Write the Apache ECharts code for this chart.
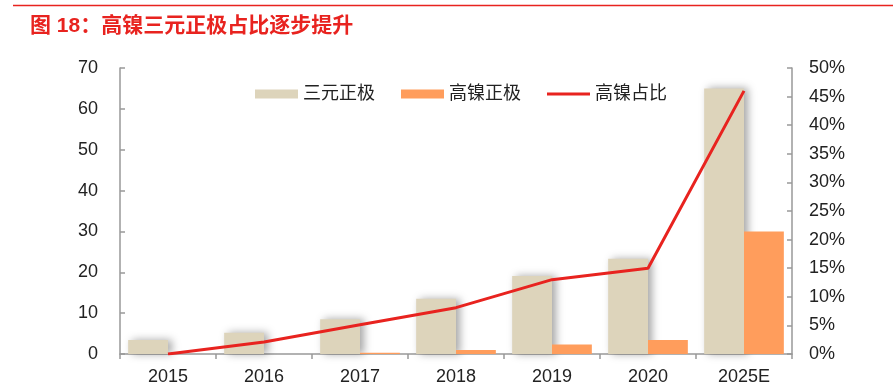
<!DOCTYPE html>
<html><head><meta charset="utf-8">
<script src="https://cdn.jsdelivr.net/npm/echarts@6/dist/echarts.min.js"></script>
<style>html,body{margin:0;padding:0;background:#fff}#c{width:893px;height:389px}</style>
</head><body><div id="c"></div>
<script>
const categories = ['2015','2016','2017','2018','2019','2020','2025E'];
const ternary = [3.4, 5.2, 8.5, 13.5, 19.1, 23.3, 65];
const highNi = [0, 0, 0.3, 1.0, 2.3, 3.4, 30];
const highNiShare = [0, 2.1, 5.1, 8.1, 13, 15, 46];
const leftTicks = {min: 0, max: 70, interval: 10};
const rightTicks = {min: 0, max: 50, interval: 5};

const FONT = 'Liberation Sans, Arial, Noto Sans CJK SC, sans-serif';
const axisGray = '#999999';
const chart = echarts.init(document.getElementById('c'), null, {renderer: 'canvas'});
chart.setOption({
  animation: false,
  textStyle: {fontFamily: FONT},
  title: {
    text: '图 18：高镍三元正极占比逐步提升',
    left: 25, top: 11,
    textStyle: {color: '#e8231f', fontSize: 21, fontWeight: 'bold', fontFamily: FONT}
  },
  graphic: [{
    type: 'line', shape: {x1: 13, y1: 5.5, x2: 893, y2: 5.5},
    style: {stroke: '#e8231f', lineWidth: 1.5}
  }],
  legend: {
    left: 250, top: 80,
    itemWidth: 43, itemHeight: 9, itemGap: 26,
    symbolKeepAspect: true,
    textStyle: {fontSize: 18, color: '#222', fontFamily: FONT},
    data: [
      {name: '三元正极', icon: 'rect'},
      {name: '高镍正极', icon: 'rect'},
      {name: '高镍占比', icon: 'path://M0,0H43V3H0Z', itemStyle: {color: '#e8231f'}}
    ]
  },
  grid: {left: 120, right: 101, top: 68, bottom: 35},
  xAxis: {
    type: 'category', data: categories, boundaryGap: true,
    axisLine: {lineStyle: {color: axisGray, width: 1.5}},
    axisTick: {show: true, length: 5, lineStyle: {color: axisGray, width: 1.5}},
    axisLabel: {fontSize: 18, color: '#222', margin: 14, fontFamily: FONT}
  },
  yAxis: [{
    type: 'value', min: leftTicks.min, max: leftTicks.max, interval: leftTicks.interval,
    splitLine: {show: false},
    axisLine: {show: true, lineStyle: {color: axisGray, width: 1.5}},
    axisTick: {show: true, inside: true, length: 5, lineStyle: {color: axisGray, width: 1.5}},
    axisLabel: {fontSize: 18, color: '#222', margin: 22, fontFamily: FONT}
  }, {
    type: 'value', min: rightTicks.min, max: rightTicks.max, interval: rightTicks.interval,
    splitLine: {show: false},
    axisLine: {show: true, lineStyle: {color: axisGray, width: 1.5}},
    axisTick: {show: true, inside: true, length: 5, lineStyle: {color: axisGray, width: 1.5}},
    axisLabel: {fontSize: 18, color: '#222', margin: 17, formatter: '{value}%', fontFamily: FONT}
  }],
  series: [{
    name: '三元正极', type: 'bar', data: ternary, yAxisIndex: 0,
    barGap: '0%', barCategoryGap: '17%',
    itemStyle: {color: '#ddd4bb', shadowColor: 'rgba(0,0,0,0.35)', shadowBlur: 8, shadowOffsetX: 4}
  }, {
    name: '高镍正极', type: 'bar', data: highNi, yAxisIndex: 0,
    barGap: '0%', barCategoryGap: '17%',
    itemStyle: {color: '#ff9d5c'}
  }, {
    name: '高镍占比', type: 'line', data: highNiShare, yAxisIndex: 1,
    symbol: 'none', smooth: false,
    lineStyle: {color: '#e8231f', width: 3},
    itemStyle: {color: '#e8231f'}
  }]
});
</script></body></html>
